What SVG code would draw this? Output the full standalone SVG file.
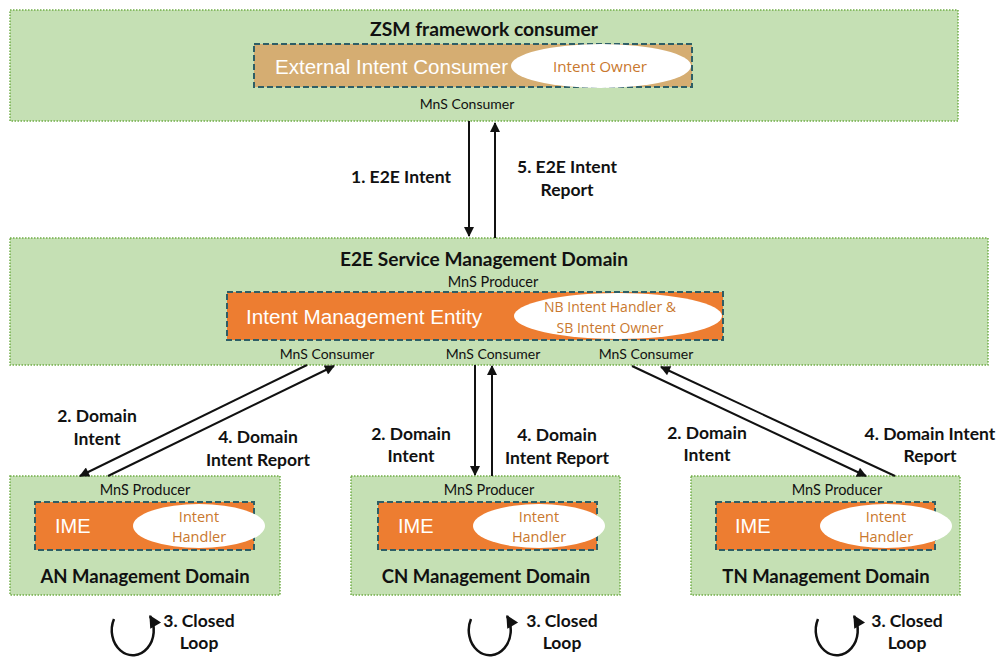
<svg xmlns="http://www.w3.org/2000/svg" width="998" height="659" viewBox="0 0 998 659">
<defs>
<marker id="ah" viewBox="0 0 10 10" refX="9" refY="5" markerWidth="6" markerHeight="5" orient="auto" markerUnits="strokeWidth">
<path d="M0,0 L10,5 L0,10 z" fill="#111"/>
</marker>
</defs>
<style>
.dom{fill:#c5e0b4;stroke:#70ad47;stroke-width:1.5;stroke-dasharray:1.5 1.5}
.ime{fill:#ed7d31;stroke:#2e5e66;stroke-width:2;stroke-dasharray:6 3}
.eic{fill:#d5ad72;stroke:#2e5e66;stroke-width:2;stroke-dasharray:6 3}
.ell{fill:#fff}
.t{font-family:Lato,"Open Sans",sans-serif;fill:#111}
.b{font-weight:bold}
.w{fill:#fff;font-family:"Liberation Sans",Arial,sans-serif}
.o{fill:#c9782e;font-family:"Open Sans",Lato,sans-serif}
.c{stroke:#111;stroke-width:2;fill:none;marker-end:url(#ah)}
.l{stroke-width:2.5}
</style>

<g id="zsm">
<rect class="dom" x="10" y="10" width="948" height="111"/>
<text class="t b" x="484" y="36" font-size="18" text-anchor="middle" textLength="228" lengthAdjust="spacingAndGlyphs">ZSM framework consumer</text>
<rect class="eic" x="254" y="44" width="438" height="43"/>
<text class="w" x="275" y="74" font-size="20" textLength="233" lengthAdjust="spacingAndGlyphs">External Intent Consumer</text>
<ellipse class="ell" cx="601" cy="66" rx="90" ry="22"/>
<text class="o" x="600" y="72" font-size="15" text-anchor="middle" textLength="94" lengthAdjust="spacingAndGlyphs">Intent Owner</text>
<text class="t" x="467" y="109" font-size="14" text-anchor="middle">MnS Consumer</text>
</g>

<g id="e2e">
<rect class="dom" x="10" y="238" width="978" height="127"/>
<text class="t b" x="484" y="266" font-size="19" text-anchor="middle" textLength="288" lengthAdjust="spacingAndGlyphs">E2E Service Management Domain</text>
<text class="t" x="493" y="287" font-size="14.5" text-anchor="middle">MnS Producer</text>
<rect class="ime" x="227" y="292" width="496" height="48"/>
<text class="w" x="246" y="324" font-size="20" textLength="236" lengthAdjust="spacingAndGlyphs">Intent Management Entity</text>
<ellipse class="ell" cx="618" cy="316" rx="104" ry="23"/>
<text class="o" x="610" y="312" font-size="14" text-anchor="middle">NB Intent Handler &amp;</text>
<text class="o" x="610" y="333" font-size="14" text-anchor="middle">SB Intent Owner</text>
<text class="t" x="327" y="359" font-size="14" text-anchor="middle">MnS Consumer</text>
<text class="t" x="493" y="359" font-size="14" text-anchor="middle">MnS Consumer</text>
<text class="t" x="646" y="359" font-size="14" text-anchor="middle">MnS Consumer</text>
</g>

<g id="an">
<rect class="dom" x="10" y="476" width="270" height="119"/>
<text class="t" x="145" y="495" font-size="14.5" text-anchor="middle">MnS Producer</text>
<rect class="ime" x="35" y="502" width="219" height="48"/>
<text class="w" x="55" y="533" font-size="20">IME</text>
<ellipse class="ell" cx="199" cy="526" rx="66" ry="22"/>
<text class="o" x="199" y="522" font-size="14.5" text-anchor="middle">Intent</text>
<text class="o" x="199" y="542" font-size="14.5" text-anchor="middle">Handler</text>
<text class="t b" x="145" y="583" font-size="18.5" text-anchor="middle">AN Management Domain</text>
</g>

<g id="cn">
<rect class="dom" x="351" y="476" width="269" height="119"/>
<text class="t" x="489" y="495" font-size="14.5" text-anchor="middle">MnS Producer</text>
<rect class="ime" x="378" y="502" width="219" height="48"/>
<text class="w" x="398" y="533" font-size="20">IME</text>
<ellipse class="ell" cx="539" cy="526" rx="66" ry="22"/>
<text class="o" x="539" y="522" font-size="14.5" text-anchor="middle">Intent</text>
<text class="o" x="539" y="542" font-size="14.5" text-anchor="middle">Handler</text>
<text class="t b" x="486" y="583" font-size="18.5" text-anchor="middle">CN Management Domain</text>
</g>

<g id="tn">
<rect class="dom" x="691" y="476" width="269" height="119"/>
<text class="t" x="837" y="495" font-size="14.5" text-anchor="middle">MnS Producer</text>
<rect class="ime" x="716" y="502" width="219" height="48"/>
<text class="w" x="735" y="533" font-size="20">IME</text>
<ellipse class="ell" cx="886" cy="526" rx="66" ry="22"/>
<text class="o" x="886" y="522" font-size="14.5" text-anchor="middle">Intent</text>
<text class="o" x="886" y="542" font-size="14.5" text-anchor="middle">Handler</text>
<text class="t b" x="826" y="583" font-size="18.5" text-anchor="middle">TN Management Domain</text>
</g>

<g id="connectors">
<line class="c" x1="469" y1="121" x2="469" y2="236"/>
<line class="c" x1="495" y1="238" x2="495" y2="123"/>
<line class="c" x1="307" y1="365" x2="80" y2="476"/>
<line class="c" x1="108" y1="476" x2="334" y2="366"/>
<line class="c" x1="475" y1="365" x2="475" y2="475"/>
<line class="c" x1="492" y1="476" x2="492" y2="366"/>
<line class="c" x1="632" y1="366" x2="866" y2="476"/>
<line class="c" x1="895" y1="476" x2="661" y2="367"/>
<path class="c l" d="M114,619 A21,25 0 1 0 150,616"/>
<path class="c l" d="M471,619 A21,25 0 1 0 507,616"/>
<path class="c l" d="M818,619 A21,25 0 1 0 854,616"/>
</g>

<g id="labels">
<text class="t b" x="401" y="183" font-size="17.5" text-anchor="middle">1. E2E Intent</text>
<text class="t b" x="567" y="173" font-size="17.5" text-anchor="middle">5. E2E Intent</text>
<text class="t b" x="567" y="196" font-size="17.5" text-anchor="middle">Report</text>
<text class="t b" x="97" y="422" font-size="17.5" text-anchor="middle">2. Domain</text>
<text class="t b" x="97" y="445" font-size="17.5" text-anchor="middle">Intent</text>
<text class="t b" x="258" y="443" font-size="17.5" text-anchor="middle">4. Domain</text>
<text class="t b" x="258" y="466" font-size="17.5" text-anchor="middle">Intent Report</text>
<text class="t b" x="411" y="440" font-size="17.5" text-anchor="middle">2. Domain</text>
<text class="t b" x="411" y="462" font-size="17.5" text-anchor="middle">Intent</text>
<text class="t b" x="557" y="441" font-size="17.5" text-anchor="middle">4. Domain</text>
<text class="t b" x="557" y="464" font-size="17.5" text-anchor="middle">Intent Report</text>
<text class="t b" x="707" y="439" font-size="17.5" text-anchor="middle">2. Domain</text>
<text class="t b" x="707" y="461" font-size="17.5" text-anchor="middle">Intent</text>
<text class="t b" x="930" y="440" font-size="17.5" text-anchor="middle">4. Domain Intent</text>
<text class="t b" x="930" y="462" font-size="17.5" text-anchor="middle">Report</text>
<text class="t b" x="199" y="627" font-size="17.5" text-anchor="middle">3. Closed</text>
<text class="t b" x="199" y="649" font-size="17.5" text-anchor="middle">Loop</text>
<text class="t b" x="562" y="627" font-size="17.5" text-anchor="middle">3. Closed</text>
<text class="t b" x="562" y="649" font-size="17.5" text-anchor="middle">Loop</text>
<text class="t b" x="907" y="627" font-size="17.5" text-anchor="middle">3. Closed</text>
<text class="t b" x="907" y="649" font-size="17.5" text-anchor="middle">Loop</text>
</g>
</svg>
